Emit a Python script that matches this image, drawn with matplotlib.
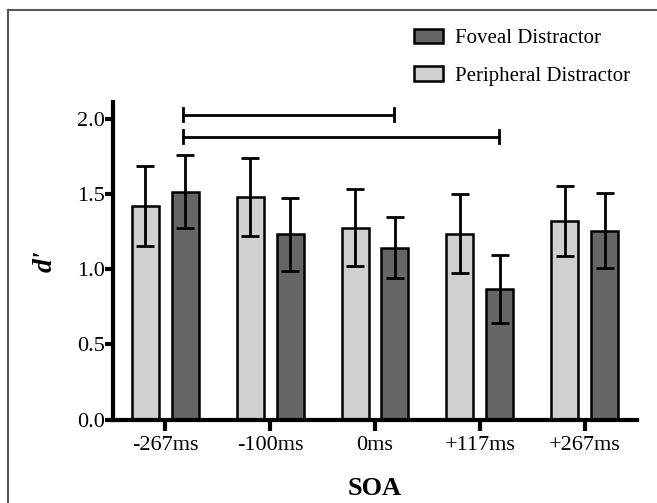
import matplotlib.pyplot as plt
import numpy as np
from matplotlib.patches import Patch
from matplotlib.lines import Line2D

plt.rcParams['font.family'] = ['Liberation Serif', 'DejaVu Serif']

soa = ['-267ms', '-100ms', '0ms', '+117ms', '+267ms']
peripheral = [1.42, 1.48, 1.275, 1.235, 1.32]
peripheral_err = [0.265, 0.26, 0.255, 0.262, 0.233]
foveal = [1.515, 1.23, 1.143, 0.868, 1.255]
foveal_err = [0.245, 0.24, 0.205, 0.228, 0.25]

# significance brackets: (group from, group to, height)
brackets = [(0, 2, 2.027), (0, 3, 1.881)]

fig = plt.figure(figsize=(6.57, 5.03), dpi=100)
ax = fig.add_axes([0.172, 0.166, 0.7976, 0.631])

x = np.arange(len(soa))
w = 0.257
off = 0.19
ax.bar(x - off, peripheral, w, color='#d0d0d0', edgecolor='black', linewidth=1.8, zorder=2)
ax.bar(x + off, foveal, w, color='#666666', edgecolor='black', linewidth=1.8, zorder=2)
ax.errorbar(x - off, peripheral, yerr=peripheral_err, fmt='none', ecolor='black',
            elinewidth=2, capsize=6.5, capthick=2, zorder=3)
ax.errorbar(x + off, foveal, yerr=foveal_err, fmt='none', ecolor='black',
            elinewidth=2, capsize=6.5, capthick=2, zorder=3)

# brackets
for a, b, h in brackets:
    xa, xb = x[a] + off - 0.02, x[b] + off - 0.01
    ax.plot([xa, xb], [h, h], color='black', lw=2, clip_on=False)
    ax.plot([xa, xa], [h - 0.045, h + 0.045], color='black', lw=2, clip_on=False)
    ax.plot([xb, xb], [h - 0.045, h + 0.045], color='black', lw=2, clip_on=False)

ax.set_xlim(-0.5, 4.5)
ax.set_ylim(0, 2.11)
ax.set_yticks([0, 0.5, 1.0, 1.5, 2.0])
ax.set_yticklabels(['0.0', '0.5', '1.0', '1.5', '2.0'])
ax.set_xticks(x)
ax.set_xticklabels(soa)
for s in ['top', 'right']:
    ax.spines[s].set_visible(False)
for s in ['left', 'bottom']:
    ax.spines[s].set_linewidth(3)
ax.tick_params(axis='y', width=3, length=6, labelsize=16, pad=0)
ax.tick_params(axis='x', width=3, length=8, labelsize=16, pad=4)

ax.set_ylabel("d'", fontsize=20, fontweight='bold', style='italic', labelpad=14)
ax.set_xlabel('SOA', fontsize=19, fontweight='bold', labelpad=16)

handles = [Patch(facecolor='#666666', edgecolor='black', linewidth=1.8),
           Patch(facecolor='#d0d0d0', edgecolor='black', linewidth=1.8)]
fig.legend(handles, ['Foveal Distractor', 'Peripheral Distractor'],
           loc='upper left', bbox_to_anchor=(0.601, 0.98), frameon=False,
           fontsize=15, handlelength=1.4, handleheight=0.7, labelspacing=0.85,
           handletextpad=0.6)

# figure border (top and left visible)
fig.add_artist(Line2D([0.012, 1.0], [0.981, 0.981], transform=fig.transFigure,
                      color='#555555', lw=1.5))
fig.add_artist(Line2D([0.012, 0.012], [0.0, 0.981], transform=fig.transFigure,
                      color='#555555', lw=1.5))

fig.savefig('out.png', dpi=100)
